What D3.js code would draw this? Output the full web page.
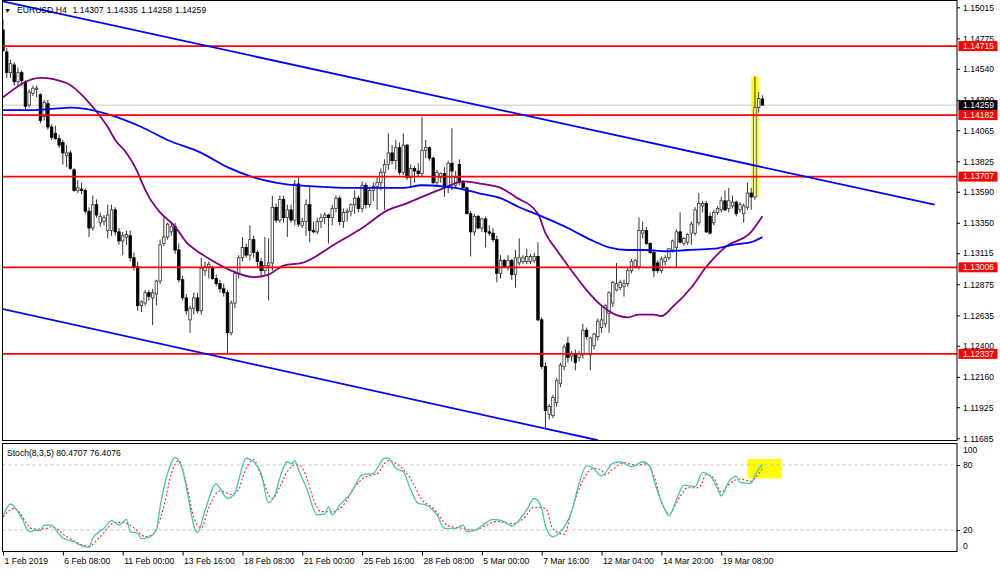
<!DOCTYPE html>
<html><head><meta charset="utf-8">
<script src="https://cdn.jsdelivr.net/npm/d3@7"></script>
<style>body{margin:0;background:#fff}svg{display:block;font-family:"Liberation Sans",Arial,sans-serif}</style>
</head><body>
<svg id="c" width="1000" height="571"></svg>
<script>
// ---------------- DATA ----------------
const symbolLabel = "EURUSD,H4";
const lastBarText = ["1.14307", "1.14335", "1.14258", "1.14259"];
// H4 candles [open, high, low, close], 1 Feb 2019 16:00 .. 21 Mar 2019 00:00
const ohlc = [
[1.1484,1.1492,1.1467,1.1468],[1.1467,1.1470,1.1447,1.1451],[1.1451,1.1461,1.1447,1.1458],[1.1457,1.1459,1.1441,1.1444],
[1.1444,1.1455,1.1440,1.1451],[1.1451,1.1453,1.1441,1.1445],[1.1444,1.1445,1.1422,1.1425],[1.1426,1.1438,1.1424,1.1436],
[1.1435,1.1441,1.1433,1.1439],[1.1438,1.1441,1.1432,1.1439],[1.1434,1.1435,1.1412,1.1414],[1.1417,1.1430,1.1414,1.1428],
[1.1427,1.1430,1.1407,1.1409],[1.1409,1.1411,1.1399,1.1401],[1.1404,1.1410,1.1399,1.1400],[1.1400,1.1403,1.1393,1.1395],
[1.1397,1.1399,1.1380,1.1389],[1.1387,1.1395,1.1378,1.1389],[1.1389,1.1391,1.1376,1.1377],[1.1376,1.1377,1.1359,1.1360],
[1.1360,1.1368,1.1358,1.1362],[1.1361,1.1366,1.1357,1.1360],[1.1360,1.1362,1.1342,1.1344],[1.1344,1.1347,1.1324,1.1331],
[1.1331,1.1356,1.1329,1.1349],[1.1349,1.1353,1.1339,1.1341],[1.1335,1.1343,1.1332,1.1340],[1.1336,1.1341,1.1333,1.1339],
[1.1329,1.1349,1.1323,1.1341],[1.1329,1.1349,1.1325,1.1345],[1.1345,1.1347,1.1325,1.1328],[1.1328,1.1331,1.1318,1.1321],
[1.1321,1.1328,1.1310,1.1325],[1.1324,1.1329,1.1318,1.1326],[1.1325,1.1329,1.1305,1.1308],[1.1308,1.1312,1.1298,1.1301],
[1.1301,1.1305,1.1267,1.1271],[1.1271,1.1275,1.1266,1.1274],[1.1273,1.1283,1.1271,1.1281],[1.1281,1.1283,1.1275,1.1278],
[1.1277,1.1284,1.1256,1.1281],[1.1280,1.1291,1.1271,1.1290],[1.1290,1.1322,1.1288,1.1318],[1.1319,1.1339,1.1317,1.1324],
[1.1324,1.1335,1.1322,1.1334],[1.1328,1.1335,1.1325,1.1332],[1.1332,1.1335,1.1311,1.1314],[1.1314,1.1319,1.1289,1.1291],
[1.1291,1.1294,1.1275,1.1277],[1.1277,1.1280,1.1264,1.1267],[1.1260,1.1271,1.1250,1.1269],[1.1269,1.1281,1.1264,1.1277],
[1.1277,1.1281,1.1265,1.1267],[1.1267,1.1308,1.1264,1.1300],[1.1298,1.1305,1.1294,1.1301],[1.1301,1.1305,1.1292,1.1303],
[1.1300,1.1302,1.1291,1.1292],[1.1292,1.1295,1.1286,1.1288],[1.1288,1.1291,1.1281,1.1284],[1.1284,1.1288,1.1278,1.1281],
[1.1281,1.1283,1.1234,1.1250],[1.1250,1.1275,1.1248,1.1273],[1.1273,1.1298,1.1269,1.1296],[1.1296,1.1310,1.1292,1.1308],
[1.1308,1.1324,1.1305,1.1316],[1.1316,1.1319,1.1308,1.1310],[1.1310,1.1333,1.1306,1.1322],[1.1322,1.1325,1.1308,1.1312],
[1.1312,1.1314,1.1300,1.1305],[1.1305,1.1308,1.1293,1.1298],[1.1298,1.1324,1.1295,1.1302],[1.1302,1.1323,1.1275,1.1304],
[1.1304,1.1356,1.1298,1.1347],[1.1347,1.1350,1.1335,1.1337],[1.1337,1.1356,1.1335,1.1353],[1.1353,1.1356,1.1335,1.1339],
[1.1339,1.1349,1.1324,1.1345],[1.1345,1.1349,1.1335,1.1337],[1.1337,1.1368,1.1333,1.1365],[1.1365,1.1370,1.1332,1.1334],
[1.1333,1.1339,1.1331,1.1336],[1.1336,1.1353,1.1325,1.1349],[1.1349,1.1363,1.1320,1.1329],[1.1329,1.1336,1.1327,1.1328],
[1.1328,1.1339,1.1326,1.1336],[1.1336,1.1342,1.1331,1.1339],[1.1339,1.1343,1.1334,1.1341],[1.1341,1.1342,1.1319,1.1339],
[1.1339,1.1349,1.1333,1.1346],[1.1346,1.1356,1.1343,1.1354],[1.1354,1.1356,1.1333,1.1336],[1.1336,1.1346,1.1331,1.1343],
[1.1343,1.1346,1.1336,1.1344],[1.1344,1.1350,1.1340,1.1349],[1.1349,1.1360,1.1342,1.1354],[1.1354,1.1356,1.1343,1.1346],
[1.1346,1.1367,1.1343,1.1364],[1.1364,1.1366,1.1346,1.1349],[1.1349,1.1362,1.1347,1.1360],[1.1360,1.1366,1.1352,1.1363],
[1.1363,1.1370,1.1345,1.1366],[1.1366,1.1377,1.1360,1.1374],[1.1374,1.1384,1.1345,1.1380],[1.1380,1.1404,1.1376,1.1389],
[1.1389,1.1395,1.1380,1.1383],[1.1383,1.1399,1.1376,1.1393],[1.1393,1.1397,1.1372,1.1374],[1.1374,1.1404,1.1372,1.1395],
[1.1395,1.1396,1.1368,1.1370],[1.1370,1.1380,1.1363,1.1377],[1.1377,1.1379,1.1366,1.1375],[1.1375,1.1381,1.1371,1.1373],
[1.1373,1.1417,1.1371,1.1391],[1.1391,1.1399,1.1385,1.1393],[1.1393,1.1394,1.1383,1.1385],[1.1385,1.1386,1.1365,1.1366],
[1.1366,1.1376,1.1364,1.1374],[1.1370,1.1374,1.1366,1.1373],[1.1373,1.1378,1.1355,1.1362],[1.1362,1.1383,1.1358,1.1381],
[1.1381,1.1408,1.1360,1.1375],[1.1364,1.1375,1.1362,1.1370],[1.1380,1.1384,1.1364,1.1366],[1.1366,1.1368,1.1360,1.1362],
[1.1362,1.1363,1.1342,1.1342],[1.1342,1.1344,1.1309,1.1328],[1.1328,1.1342,1.1325,1.1340],[1.1340,1.1341,1.1330,1.1331],
[1.1331,1.1339,1.1328,1.1338],[1.1338,1.1340,1.1316,1.1328],[1.1328,1.1333,1.1325,1.1327],[1.1327,1.1331,1.1320,1.1322],
[1.1322,1.1325,1.1289,1.1296],[1.1296,1.1310,1.1292,1.1306],[1.1306,1.1307,1.1300,1.1301],[1.1301,1.1310,1.1298,1.1306],
[1.1306,1.1307,1.1291,1.1295],[1.1295,1.1314,1.1285,1.1308],[1.1304,1.1323,1.1302,1.1308],[1.1305,1.1310,1.1303,1.1308],
[1.1305,1.1315,1.1303,1.1309],[1.1305,1.1311,1.1303,1.1309],[1.1306,1.1312,1.1304,1.1309],[1.1309,1.1320,1.1259,1.1260],
[1.1260,1.1262,1.1222,1.1224],[1.1224,1.1227,1.1176,1.1190],[1.1187,1.1195,1.1183,1.1193],[1.1186,1.1202,1.1184,1.1200],
[1.1196,1.1215,1.1193,1.1213],[1.1211,1.1227,1.1208,1.1225],[1.1224,1.1241,1.1221,1.1239],[1.1242,1.1247,1.1227,1.1231],
[1.1232,1.1236,1.1228,1.1234],[1.1234,1.1237,1.1221,1.1227],[1.1231,1.1236,1.1228,1.1234],[1.1233,1.1257,1.1230,1.1252],
[1.1252,1.1254,1.1245,1.1247],[1.1233,1.1247,1.1221,1.1246],[1.1240,1.1250,1.1237,1.1249],[1.1247,1.1261,1.1244,1.1259],
[1.1254,1.1271,1.1250,1.1260],[1.1257,1.1272,1.1254,1.1271],[1.1265,1.1282,1.1250,1.1281],[1.1273,1.1290,1.1270,1.1289],
[1.1283,1.1304,1.1282,1.1288],[1.1285,1.1291,1.1283,1.1289],[1.1286,1.1291,1.1278,1.1288],[1.1288,1.1300,1.1286,1.1298],
[1.1298,1.1307,1.1296,1.1305],[1.1301,1.1307,1.1300,1.1306],[1.1301,1.1339,1.1299,1.1329],[1.1327,1.1336,1.1323,1.1329],
[1.1329,1.1332,1.1318,1.1319],[1.1319,1.1320,1.1311,1.1312],[1.1312,1.1314,1.1293,1.1298],[1.1304,1.1306,1.1296,1.1298],
[1.1298,1.1309,1.1296,1.1307],[1.1305,1.1310,1.1302,1.1308],[1.1308,1.1315,1.1306,1.1315],[1.1314,1.1322,1.1312,1.1321],
[1.1316,1.1330,1.1300,1.1328],[1.1328,1.1343,1.1319,1.1320],[1.1319,1.1324,1.1317,1.1323],[1.1320,1.1327,1.1318,1.1326],
[1.1327,1.1336,1.1318,1.1334],[1.1327,1.1347,1.1325,1.1345],[1.1335,1.1358,1.1333,1.1350],[1.1348,1.1352,1.1343,1.1350],
[1.1350,1.1352,1.1327,1.1328],[1.1340,1.1343,1.1326,1.1327],[1.1335,1.1345,1.1333,1.1343],[1.1343,1.1348,1.1341,1.1346],
[1.1345,1.1355,1.1343,1.1352],[1.1352,1.1360,1.1344,1.1345],[1.1346,1.1362,1.1343,1.1352],[1.1348,1.1356,1.1346,1.1351],
[1.1351,1.1352,1.1340,1.1342],[1.1345,1.1351,1.1343,1.1349],[1.1342,1.1350,1.1335,1.1348],[1.1347,1.1366,1.1345,1.1358],
[1.1358,1.1362,1.1345,1.1355],[1.1355,1.1448,1.1353,1.1424],[1.1424,1.1436,1.1420,1.1431],[1.14307,1.14335,1.14258,1.14259]
];
// time axis labels [bar index, text]
const timeLabels = [[0,"1 Feb 2019"],[16,"6 Feb 08:00"],[32,"11 Feb 00:00"],[48,"13 Feb 16:00"],[64,"18 Feb 08:00"],
  [80,"21 Feb 00:00"],[96,"25 Feb 16:00"],[112,"28 Feb 08:00"],[128,"5 Mar 00:00"],[144,"7 Mar 16:00"],
  [160,"12 Mar 04:00"],[176,"14 Mar 20:00"],[192,"19 Mar 08:00"]];
const priceTicks = [1.15015,1.14775,1.14540,1.14300,1.14065,1.13825,1.13590,1.13350,1.13115,1.12875,1.12635,1.12400,1.12160,1.11925,1.11685];
const priceLevels = [1.14715,1.14182,1.13707,1.13006,1.12337];
const currentPrice = 1.14259;
// moving averages [bar index, price]
const maPurple = [[0,1.1432],[10,1.1447],[17,1.1443],[22,1.1431],[25,1.1421],[28,1.1409],[30,1.1399],[33,1.1389],[36,1.1374],
  [37,1.1367],[39,1.1355],[42,1.1343],[46,1.1332],[49,1.1320],[53,1.1311],[57,1.1304],[61,1.1298],[67,1.1293],[71,1.1295],
  [75,1.1302],[80,1.1304],[89,1.1319],[96,1.1331],[103,1.1345],[107,1.1349],[112,1.1355],[118,1.1362],[123,1.1367],
  [128,1.1365],[133,1.1362],[137,1.1355],[143,1.1342],[145,1.1327],[148,1.1314],[152,1.1298],[156,1.1283],[160,1.1271],
  [163,1.1265],[167,1.1262],[170,1.1264],[174,1.1264],[176,1.1263],[179,1.1270],[184,1.1285],[188,1.1301],[193,1.1316],
  [200,1.1328],[203,1.1340]];
const maBlue = [[0,1.1422],[6,1.1422],[13,1.1423],[18,1.1424],[22,1.1423],[29,1.1418],[37,1.1409],[44,1.1399],[53,1.1389],
  [60,1.1378],[66,1.1371],[75,1.1365],[84,1.1363],[93,1.1362],[102,1.1362],[107,1.1362],[112,1.1364],[118,1.1363],
  [121,1.1362],[127,1.1358],[133,1.1354],[138,1.1347],[144,1.1340],[151,1.1331],[157,1.1322],[162,1.1316],[167,1.1314],
  [172,1.1314],[177,1.1313],[183,1.1314],[190,1.1315],[195,1.1318],[200,1.1320],[203,1.1324]];
// channel trend lines [bar index, price]
const channelUpper = [[0,1.1506],[249,1.1349]];
const channelLower = [[-1,1.1269],[159,1.1167]];
// highlighted boxes
const boxMainBars = [200,202], boxMainPrices = [1.1355,1.1448];
const boxStochBars = [199,208], boxStochValues = [67.7,85.5];
// stochastic (8,3,5) [bar index, value]
const stochTitle = "Stoch(8,3,5) 80.4707 76.4076";
const stochMain = [[0,33],[2,44],[5,31],[7,18.5],[9,20],[10,19.4],[11,24.6],[13,24.6],[14,20.6],[16,12.4],[19,9.2],[21,5.3],
  [23,4],[24,12.4],[27,21.6],[29,28.6],[31,24.6],[33,29.9],[34,18.5],[36,17],[37,12],[39,13.3],[41,20],[42,41.5],[44,72.3],
  [45,82],[46,87],[48,75.4],[50,41.5],[51,24],[52,17.5],[54,38],[57,62.5],[58,58.5],[60,49.3],[62,53.9],[63,66.1],[65,86.2],
  [67,83],[69,72.3],[71,45.2],[73,55.4],[74,68],[76,83],[77,81],[78,84],[79,75.4],[81,60],[84,33.9],[86,34.8],[87,41.5],
  [88,33.9],[90,43.1],[93,53.9],[96,70.8],[99,72.3],[102,86.2],[103,86.2],[105,76.9],[107,73.8],[109,56.9],[111,44.6],
  [113,43.1],[116,33.9],[118,21.6],[121,21.6],[123,24.6],[124,18.5],[126,19.4],[128,23.7],[131,29.9],[134,27.7],[136,23.7],
  [138,29.2],[140,38.5],[142,49.3],[144,40],[145,23.7],[147,13.8],[149,18.5],[152,36.9],[154,63.1],[156,79.1],[157,78.4],
  [158,76],[160,70],[163,81.5],[165,83],[168,78.4],[171,83],[173,78.4],[174,66.1],[177,38.5],[178,32.9],[180,47.7],
  [182,61.5],[185,60],[187,73.2],[189,69.8],[191,58.5],[192,51.4],[194,64.6],[196,69.8],[197,64],[200,63.1],[201,70.8],
  [203,80.47]];
const stochSignal = [[0,32],[3,40],[8,21],[11,21],[13,23],[17,14],[23,5],[26,14],[30,27],[32,27],[35,22],[38,14],[40,16],
  [43,42],[45,72],[47,84],[49,63],[51,32],[53,22],[55,41],[58,56],[61,53],[63,57],[64,68],[67,85],[69,70],[72,49],[74,60],
  [76,74],[78,80],[79,80],[81,70],[83,48],[85,37],[88,37],[91,43],[94,60],[97,69],[100,72],[103,84],[106,79],[109,67],
  [112,48],[115,40],[119,24],[122,22],[126,20],[129,24],[132,28],[136,26],[139,30],[142,41],[145,40],[147,21],[150,16],
  [152,38],[155,66],[158,77],[160,75],[161,71],[163,76],[166,82],[169,80],[172,81],[174,70],[176,46],[178,35],[181,51],
  [183,59],[186,59],[188,71],[190,68],[192,55],[194,62],[197,67],[200,65],[201,68],[203,76.41]];
const stochLevels = [80,20];
const stochTicks = [100,80,20,0];

// ---------------- DRAW ----------------
const svg = d3.select("#c");
const FONT = 8.6;
const L = 2.5, R = 957, MT = 0.5, MB = 440.5, ST = 443.5, SB = 551.5;
const barPx = 3.741;
const x = d3.scaleLinear().domain([0,255]).range([3, 3 + 255*barPx]);
const y = d3.scaleLinear().domain([1.11685,1.15015]).range([438.3,7.3]);
const ys = d3.scaleLinear().domain([0,100]).range([551.7,443.3]);

svg.append("rect").attr("width",1000).attr("height",571).attr("fill","#fff");
const defs = svg.append("defs");
defs.append("clipPath").attr("id","cm").append("rect").attr("x",L).attr("y",MT).attr("width",R-L).attr("height",MB-MT);
defs.append("clipPath").attr("id","cs").append("rect").attr("x",L).attr("y",ST).attr("width",R-L).attr("height",SB-ST);

// ---- main panel ----
const gm = svg.append("g").attr("clip-path","url(#cm)");
gm.append("rect").attr("x",x(boxMainBars[0])).attr("width",x(boxMainBars[1])-x(boxMainBars[0]))
  .attr("y",y(boxMainPrices[1])).attr("height",y(boxMainPrices[0])-y(boxMainPrices[1])).attr("fill","#ffff00");
gm.append("line").attr("x1",L).attr("x2",R).attr("y1",y(currentPrice)).attr("y2",y(currentPrice))
  .attr("stroke","#c8c8c8").attr("stroke-width",1);

const bw = 2.5;
const cg = gm.append("g").selectAll("g").data(ohlc).join("g");
cg.append("line").attr("x1",(d,i)=>x(i)).attr("x2",(d,i)=>x(i))
  .attr("y1",d=>y(d[1])).attr("y2",d=>y(d[2])).attr("stroke","#333").attr("stroke-width",1);
cg.append("rect").attr("x",(d,i)=>x(i)-bw/2).attr("width",bw)
  .attr("y",d=>y(Math.max(d[0],d[3])))
  .attr("height",d=>Math.max(0.9,Math.abs(y(d[0])-y(d[3]))))
  .attr("fill",d=>d[3]>=d[0]?"#fff":"#000")
  .attr("stroke",d=>d[3]>=d[0]?"#333":"#000").attr("stroke-width",0.8);

const lineP = d3.line().x(d=>x(d[0])).y(d=>y(d[1])).curve(d3.curveMonotoneX);
gm.append("path").attr("d",lineP(maPurple)).attr("fill","none").attr("stroke","#800080").attr("stroke-width",1.8);
gm.append("path").attr("d",lineP(maBlue)).attr("fill","none").attr("stroke","#0000ff").attr("stroke-width",1.8);

gm.selectAll("line.lvl").data(priceLevels).join("line").attr("class","lvl")
  .attr("x1",L).attr("x2",R).attr("y1",d=>y(d)).attr("y2",d=>y(d)).attr("stroke","#ff0000").attr("stroke-width",1.8);

const lineL = d3.line().x(d=>x(d[0])).y(d=>y(d[1]));
[channelUpper, channelLower].forEach(c=>{
  gm.append("path").attr("d",lineL(c)).attr("fill","none").attr("stroke","#0000ff").attr("stroke-width",1.8);
});

// frame
svg.append("rect").attr("x",L).attr("y",MT).attr("width",R-L).attr("height",MB-MT).attr("fill","none").attr("stroke","#000");

// title
svg.append("text").attr("x",4).attr("y",12.5).attr("font-size",7).attr("fill","#000").text("▼");
svg.append("text").attr("x",17).attr("y",13).attr("font-size",FONT).attr("fill","#000").text(symbolLabel);
lastBarText.forEach((t,i)=>svg.append("text").attr("x",72.5+i*34.2).attr("y",13).attr("font-size",FONT).attr("fill","#000").text(t));

// price axis
const ya = svg.append("g").attr("transform",`translate(${R},0)`)
  .call(d3.axisRight(y).tickValues(priceTicks).tickFormat(d3.format(".5f")).tickSize(3).tickPadding(3));
ya.select(".domain").remove();
ya.selectAll("text").attr("font-size",FONT).attr("font-family","Liberation Sans, Arial, sans-serif").attr("fill","#000");
ya.selectAll("line").attr("stroke","#000");

// price level boxes
function priceBox(p, fill){
  const g = svg.append("g");
  g.append("rect").attr("x",958.5).attr("y",y(p)-5).attr("width",39).attr("height",10).attr("fill",fill);
  g.append("text").attr("x",963).attr("y",y(p)).attr("dy","0.33em").attr("font-size",FONT).attr("fill","#fff").text(d3.format(".5f")(p));
}
priceLevels.forEach(p=>priceBox(p,"#ff0000"));
priceBox(currentPrice,"#000");

// ---- stochastic panel ----
const gs = svg.append("g").attr("clip-path","url(#cs)");
gs.append("rect").attr("x",x(boxStochBars[0])).attr("width",x(boxStochBars[1])-x(boxStochBars[0]))
  .attr("y",ys(boxStochValues[1])).attr("height",ys(boxStochValues[0])-ys(boxStochValues[1])).attr("fill","#ffff00");
gs.selectAll("line.sl").data(stochLevels).join("line").attr("class","sl")
  .attr("x1",L).attr("x2",R).attr("y1",d=>ys(d)).attr("y2",d=>ys(d))
  .attr("stroke","#c0c0c0").attr("stroke-dasharray","3,3").attr("stroke-width",1);
const lineS = d3.line().x(d=>x(d[0])).y(d=>ys(d[1])).curve(d3.curveMonotoneX);
gs.append("path").attr("d",lineS(stochSignal)).attr("fill","none").attr("stroke","#ff2020").attr("stroke-width",1.1).attr("stroke-dasharray","2,2");
gs.append("path").attr("d",lineS(stochMain)).attr("fill","none").attr("stroke","#45c3b6").attr("stroke-width",1.3);
svg.append("rect").attr("x",L).attr("y",ST).attr("width",R-L).attr("height",SB-ST).attr("fill","none").attr("stroke","#000");
svg.append("text").attr("x",7).attr("y",455.5).attr("font-size",FONT).attr("fill","#000").text(stochTitle);

const sa = svg.append("g").attr("transform",`translate(${R},0)`)
  .call(d3.axisRight(ys).tickValues(stochTicks).tickSize(3).tickPadding(3));
sa.select(".domain").remove();
sa.selectAll("text").attr("font-size",FONT).attr("font-family","Liberation Sans, Arial, sans-serif").attr("fill","#000")
  .attr("dy",d=>d===100?"1.05em":d===0?"-0.35em":"0.32em");
sa.selectAll("line").attr("stroke",d=>(d===100||d===0)?"none":"#000");

// time axis
const ta = svg.append("g").attr("transform",`translate(0,${SB})`)
  .call(d3.axisBottom(x).tickValues(timeLabels.map(d=>d[0])).tickFormat((d,i)=>timeLabels[i][1]).tickSize(4).tickPadding(2));
ta.select(".domain").remove();
ta.selectAll("line").attr("stroke","#000");
ta.selectAll("text").attr("font-size",FONT).attr("font-family","Liberation Sans, Arial, sans-serif").attr("fill","#000")
  .attr("text-anchor","start").attr("x",1);
</script>
</body></html>
